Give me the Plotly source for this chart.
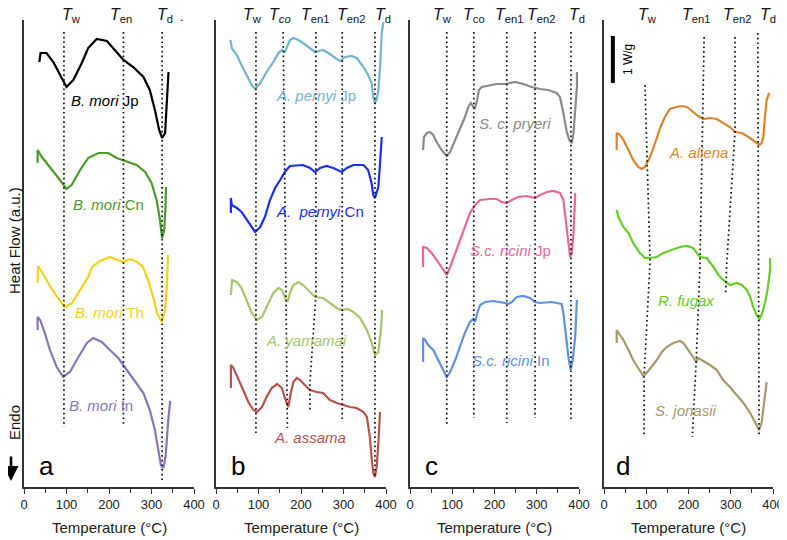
import plotly.graph_objects as go

# ---------------- data (Temperature in °C, heat flow in a.u., curves offset) ----------------
# Panel a
T_mori_jp = [36, 39, 53, 69, 85, 100, 116, 136, 151, 171, 195, 214, 234, 257, 281, 296, 308, 318, 325, 332, 336, 340]
HF_mori_jp = [425, 434, 434, 425, 412, 400, 407, 424, 439, 448, 446, 437, 427, 420, 410, 397, 377, 357, 349, 354, 387, 415]
T_mori_cn = [32, 32, 42, 61, 81, 100, 112, 132, 151, 175, 198, 218, 238, 265, 285, 300, 312, 320, 325, 330, 333, 334]
HF_mori_cn = [324, 337, 330, 320, 309, 298, 302, 317, 329, 334, 334, 329, 326, 322, 315, 304, 287, 267, 249, 257, 280, 300]
T_mori_th = [32, 33, 45, 61, 80, 96, 113, 132, 151, 160, 179, 202, 219, 233, 249, 266, 280, 292, 304, 313, 324, 332, 336, 339]
HF_mori_th = [204, 221, 213, 201, 189, 180, 184, 197, 210, 220, 226, 230, 227, 225, 228, 225, 220, 207, 190, 174, 165, 177, 200, 232]
T_mori_in = [32, 32, 38, 49, 61, 77, 92, 108, 128, 148, 163, 183, 202, 222, 242, 265, 281, 296, 308, 316, 322, 328, 333, 340, 344]
HF_mori_in = [157, 170, 167, 154, 137, 120, 110, 115, 130, 144, 149, 145, 137, 129, 117, 104, 94, 77, 57, 37, 22, 19, 30, 70, 86]

# Panel b
T_pernyi_jp = [33, 35, 37, 41, 49, 60, 72, 84, 92, 104, 119, 135, 147, 155, 162, 168, 174, 182, 194, 205, 221, 233, 252,
               268, 284, 292, 304, 319, 331, 347, 358, 366, 370, 374, 378, 382, 386, 390, 394]
HF_pernyi_jp = [447, 445, 439, 437, 432, 422, 412, 402, 398, 404, 415, 425, 434, 437, 435, 442, 447, 449, 447, 444, 439, 435, 437,
                433, 428, 426, 430, 431, 429, 420, 412, 404, 390, 384, 387, 397, 420, 454, 465]
T_pernyi_cn = [35, 35, 37, 49, 60, 72, 84, 92, 104, 115, 127, 139, 151, 162, 174, 205, 221, 233, 245, 260, 276, 296, 308,
               323, 347, 358, 366, 370, 374, 378, 382, 386, 390]
HF_pernyi_cn = [274, 289, 282, 279, 275, 267, 259, 255, 260, 270, 287, 299, 307, 315, 321, 322, 319, 315, 319, 321, 319, 315, 319,
                322, 322, 317, 304, 292, 289, 294, 300, 324, 350]
T_yamamai = [35, 38, 49, 60, 72, 84, 96, 108, 119, 135, 147, 155, 162, 168, 174, 182, 194, 205, 221, 233, 252, 268, 284,
             296, 311, 323, 339, 355, 366, 374, 382, 388, 391]
HF_yamamai = [192, 207, 205, 199, 187, 174, 167, 170, 180, 194, 199, 197, 190, 185, 194, 202, 205, 202, 195, 190, 189, 184, 179,
              177, 178, 175, 169, 157, 145, 132, 135, 157, 177]
T_assama = [35, 35, 41, 52, 64, 76, 88, 96, 108, 119, 131, 144, 155, 162, 170, 176, 182, 190, 198, 209, 221, 237, 252,
            268, 284, 300, 315, 331, 347, 355, 358, 362, 366, 370, 374, 378, 382, 386]
HF_assama = [99, 122, 119, 109, 97, 85, 77, 75, 80, 90, 99, 103, 99, 89, 80, 94, 105, 109, 107, 102, 97, 95, 94,
             87, 84, 82, 80, 79, 75, 70, 60, 50, 30, 14, 10, 20, 44, 75]

# Panel c
T_pryeri = [31, 33, 40, 47, 55, 63, 75, 87, 95, 107, 118, 130, 138, 144, 150, 154, 159, 163, 170, 185, 205, 225, 249,
            268, 288, 308, 327, 347, 355, 363, 371, 377, 383, 387, 391, 395, 395]
HF_pryeri = [337, 350, 354, 355, 352, 345, 337, 331, 335, 347, 359, 370, 380, 384, 380, 379, 387, 397, 400, 401, 403, 403, 405,
             403, 400, 398, 397, 394, 390, 374, 355, 347, 344, 354, 377, 400, 415]
T_ricini_jp = [31, 31, 40, 51, 63, 75, 87, 95, 107, 118, 130, 142, 154, 166, 189, 205, 217, 229, 241, 256, 276, 296, 308,
               324, 339, 355, 363, 369, 375, 379, 383, 387, 391]
HF_ricini_jp = [220, 240, 239, 234, 227, 220, 212, 220, 234, 247, 260, 274, 282, 287, 288, 288, 285, 284, 287, 290, 291, 289, 292,
                295, 296, 294, 287, 267, 244, 230, 234, 254, 294]
T_ricini_in = [31, 31, 36, 43, 55, 67, 79, 87, 95, 107, 118, 130, 142, 150, 154, 159, 166, 178, 197, 217, 225, 233, 241,
               253, 268, 284, 296, 308, 324, 335, 347, 359, 363, 369, 375, 380, 385, 391, 395]
HF_ricini_in = [125, 149, 147, 142, 137, 127, 117, 110, 115, 127, 140, 154, 165, 168, 165, 174, 182, 185, 186, 185, 184, 183, 185,
                190, 191, 189, 185, 184, 185, 185, 184, 183, 174, 150, 130, 117, 127, 150, 187]

# Panel d
T_aliena = [30, 30, 38, 46, 58, 69, 81, 89, 97, 109, 121, 133, 144, 156, 172, 184, 196, 211, 223, 235, 251, 267, 282,
            298, 310, 326, 342, 357, 368, 373, 377, 381, 385, 391]
HF_aliena = [337, 354, 352, 347, 337, 327, 320, 318, 320, 330, 344, 359, 370, 378, 380, 381, 380, 375, 371, 368, 369, 368, 364,
             360, 355, 354, 350, 345, 342, 344, 350, 370, 387, 394]
T_fugax = [30, 34, 46, 58, 69, 85, 97, 109, 125, 140, 160, 180, 196, 211, 227, 243, 259, 263, 271, 282, 298, 314, 326,
           338, 346, 353, 361, 368, 373, 381, 387, 391, 393, 393]
HF_fugax = [277, 270, 260, 254, 244, 234, 229, 229, 230, 234, 237, 240, 241, 239, 230, 229, 220, 217, 212, 207, 202, 204, 202,
            197, 190, 180, 172, 168, 172, 184, 197, 210, 217, 229]
T_jonasii = [30, 30, 38, 46, 58, 69, 81, 93, 101, 113, 125, 137, 148, 164, 180, 188, 200, 211, 218, 223, 235, 251, 267,
             282, 298, 314, 330, 346, 361, 367, 373, 377, 381, 385]
HF_jonasii = [144, 157, 152, 147, 137, 127, 119, 111, 114, 120, 127, 135, 140, 144, 146, 144, 137, 130, 125, 129, 126, 122, 117,
              107, 100, 92, 84, 74, 62, 57, 64, 77, 94, 105]

# Characteristic-temperature guide lines (T and heat-flow extents)
GUIDE_T_a = [[94, 94], [234, 234], [325, 325]]
GUIDE_HF_a = [[455, 60], [455, 62], [455, 7]]
GUIDE_T_b = [[94, 94], [158, 168], [235, 235, 221, 221], [297, 297], [374, 374]]
GUIDE_HF_b = [[455, 54], [455, 59], [455, 192, 104, 77], [455, 67], [455, 10]]
GUIDE_T_c = [[87, 87], [151, 151], [229, 229], [296, 296], [381, 381]]
GUIDE_HF_c = [[455, 62], [455, 69], [455, 64], [455, 69], [455, 67]]
GUIDE_T_d = [[97, 109, 95, 95], [237, 227, 218, 209], [310, 310, 290, 288], [364, 367]]
GUIDE_HF_d = [[402, 225, 112, 50], [450, 220, 124, 50], [450, 355, 220, 194], [454, 50]]

# Scale bar (1 W/g) in panel d
SCALE_T = [21, 21]
SCALE_HF = [404, 451]

X_TICKS = [0, 100, 200, 300, 400]
X_MINOR = [50, 150, 250, 350]

# ---------------- figure ----------------
FONT = "Arial, Liberation Sans, Helvetica, sans-serif"
OFF = 8                      # page body margin: the graph div sits 8 px in from the window edge
W, H = 787 - OFF, 540 - OFF
PLOT_TOP, PLOT_BOTTOM = 20, 487          # window pixels
MT = PLOT_TOP - OFF
MB = H - (PLOT_BOTTOM - OFF)
PH = PLOT_BOTTOM - PLOT_TOP

AX = {"a": ("x", "y"), "b": ("x2", "y2"), "c": ("x3", "y3"), "d": ("x4", "y4")}
XREF = {"a": "x", "b": "x2", "c": "x3", "d": "x4"}
DOMAINS = {"a": (24, 194), "b": (216, 386), "c": (410, 579), "d": (604, 773)}   # window pixels


def px(xwin):
    return (xwin - OFF) / W


def py(ywin):
    return (PLOT_BOTTOM - ywin) / PH


series = [
    ("a", T_mori_jp, HF_mori_jp, "#000000"),
    ("a", T_mori_cn, HF_mori_cn, "#4b9a2a"),
    ("a", T_mori_th, HF_mori_th, "#f4d11e"),
    ("a", T_mori_in, HF_mori_in, "#8a74b8"),
    ("b", T_pernyi_jp, HF_pernyi_jp, "#74b5cc"),
    ("b", T_pernyi_cn, HF_pernyi_cn, "#1c2ef2"),
    ("b", T_yamamai, HF_yamamai, "#a8c46c"),
    ("b", T_assama, HF_assama, "#b8524d"),
    ("c", T_pryeri, HF_pryeri, "#8a8a8a"),
    ("c", T_ricini_jp, HF_ricini_jp, "#e4689a"),
    ("c", T_ricini_in, HF_ricini_in, "#5f92da"),
    ("d", T_aliena, HF_aliena, "#db8430"),
    ("d", T_fugax, HF_fugax, "#66cc26"),
    ("d", T_jonasii, HF_jonasii, "#a39a6c"),
]

fig = go.Figure()
for panel, T, HF, color in series:
    xa, ya = AX[panel]
    fig.add_trace(go.Scatter(x=T, y=HF, mode="lines", xaxis=xa, yaxis=ya,
                             line=dict(color=color, width=2.2), hoverinfo="skip", showlegend=False))

for panel, GT, GH in [("a", GUIDE_T_a, GUIDE_HF_a), ("b", GUIDE_T_b, GUIDE_HF_b),
                      ("c", GUIDE_T_c, GUIDE_HF_c), ("d", GUIDE_T_d, GUIDE_HF_d)]:
    xa, ya = AX[panel]
    for t, h in zip(GT, GH):
        fig.add_trace(go.Scatter(x=t, y=h, mode="lines", xaxis=xa, yaxis=ya,
                                 line=dict(color="#111111", width=1.7, dash="1.7px,3px"),
                                 hoverinfo="skip", showlegend=False))

fig.add_trace(go.Scatter(x=SCALE_T, y=SCALE_HF, mode="lines", xaxis="x4", yaxis="y4",
                         line=dict(color="#000000", width=4), hoverinfo="skip", showlegend=False))

layout = dict(
    width=W, height=H, autosize=False, margin=dict(l=0, r=0, t=MT, b=MB, pad=0, autoexpand=False),
    paper_bgcolor="white", plot_bgcolor="white",
    font=dict(family=FONT, size=13, color="#222222"),
    showlegend=False,
)
for i, p in enumerate(["a", "b", "c", "d"]):
    sfx = "" if i == 0 else str(i + 1)
    d0, d1 = DOMAINS[p]
    layout["xaxis" + sfx] = dict(
        domain=[px(d0), px(d1)], range=[0, 400], anchor="y" + sfx, automargin=False,
        showline=True, linecolor="#333333", linewidth=1.5, mirror=False,
        ticks="outside", tickvals=X_TICKS, ticklen=5, tickwidth=1.3, tickcolor="#333333",
        minor=dict(tickvals=X_MINOR, ticks="outside", ticklen=4, tickwidth=1.3, tickcolor="#333333"),
        showgrid=False, zeroline=False, tickfont=dict(size=13, color="#222222"),
        fixedrange=True,
    )
    layout["yaxis" + sfx] = dict(
        domain=[0, 1], range=[0, 467], anchor="x" + sfx, automargin=False,
        showline=True, linecolor="#333333", linewidth=1.5,
        ticks="", showticklabels=False, showgrid=False, zeroline=False, fixedrange=True,
    )
fig.update_layout(**layout)

ann = []

# header labels
headers = {
    "a": [("<i>T</i><sub>w</sub>", 111), ("<i>T</i><sub>en</sub>", 228), ("<i>T</i><sub>d</sub>", 332)],
    "b": [("<i>T</i><sub>w</sub>", 85), ("<i>T</i><sub><i>co</i></sub>", 151), ("<i>T</i><sub>en1</sub>", 233),
          ("<i>T</i><sub>en2</sub>", 318), ("<i>T</i><sub>d</sub>", 393)],
    "c": [("<i>T</i><sub>w</sub>", 76), ("<i>T</i><sub>co</sub>", 151), ("<i>T</i><sub>en1</sub>", 234),
          ("<i>T</i><sub>en2</sub>", 310), ("<i>T</i><sub>d</sub>", 395)],
    "d": [("<i>T</i><sub>w</sub>", 102), ("<i>T</i><sub>en1</sub>", 218), ("<i>T</i><sub>en2</sub>", 315),
          ("<i>T</i><sub>d</sub>", 388)],
}
for p, lst in headers.items():
    for txt, xv in lst:
        ann.append(dict(x=xv, y=py(16), xref=XREF[p], yref="paper", text=txt, showarrow=False,
                        font=dict(size=16, color="#111111", family=FONT), xanchor="center", yanchor="middle"))
ann.append(dict(x=372, y=py(17), xref="x", yref="paper", text=".", showarrow=False,
                font=dict(size=13, color="#111111"), xanchor="center", yanchor="middle"))

# x-axis titles
for p in ["a", "b", "c", "d"]:
    ann.append(dict(x=200, y=py(527), xref=XREF[p], yref="paper", text="Temperature (°C)", showarrow=False,
                    font=dict(size=15, color="#222222", family=FONT), xanchor="center", yanchor="middle"))

# curve labels
labels = [
    ("a", "<i>B. mori</i> Jp", 191, 387, "#000000"),
    ("a", "<i>B. mori</i> Cn", 198, 283, "#4b9a2a"),
    ("a", "<i>B. mori</i> Th", 200, 175, "#f4d11e"),
    ("a", "<i>B. mori</i> In", 182, 82, "#8a74b8"),
    ("b", "<i>A. pernyi</i> Jp", 235, 392, "#74b5cc"),
    ("b", "<i>A.  pernyi</i> Cn", 245, 276, "#1c2ef2"),
    ("b", "<i>A. yamamai</i>", 213, 147, "#a8c46c"),
    ("b", "<i>A. assama</i>", 220, 50, "#b8524d"),
    ("c", "<i>S. c. pryeri</i>", 249, 364, "#8a8a8a"),
    ("c", "<i>S.c. ricini</i> Jp", 237, 237, "#e4689a"),
    ("c", "<i>S.c. ricini</i> In", 239, 127, "#5f92da"),
    ("d", "<i>A. aliena</i>", 224, 335, "#db8430"),
    ("d", "<i>R. fugax</i>", 193, 187, "#66cc26"),
    ("d", "<i>S. jonasii</i>", 193, 77, "#a39a6c"),
]
for p, txt, xv, yv, col in labels:
    xa, ya = AX[p]
    ann.append(dict(x=xv, y=yv, xref=xa, yref=ya, text=txt, showarrow=False,
                    font=dict(size=15, color=col, family=FONT), xanchor="center", yanchor="middle"))

# panel letters
for p, xv in [("a", 54), ("b", 52), ("c", 52), ("d", 45)]:
    xa, ya = AX[p]
    ann.append(dict(x=xv, y=21, xref=xa, yref=ya, text=p, showarrow=False,
                    font=dict(size=26, color="#000000", family=FONT), xanchor="center", yanchor="middle"))

# scale bar text
ann.append(dict(x=57, y=427, xref="x4", yref="y4", text="1 W/g", textangle=-90, showarrow=False,
                font=dict(size=12, color="#000000", family=FONT), xanchor="center", yanchor="middle"))

# y label, Endo, arrow
ann.append(dict(x=px(14), y=py(241), xref="paper", yref="paper", text="Heat Flow (a.u.)", textangle=-90,
                showarrow=False, font=dict(size=15, color="#111111", family=FONT), xanchor="center", yanchor="middle"))
ann.append(dict(x=px(14), y=py(423), xref="paper", yref="paper", text="Endo", textangle=-90,
                showarrow=False, font=dict(size=15, color="#111111", family=FONT), xanchor="center", yanchor="middle"))
ann.append(dict(x=px(11), y=py(481), xref="paper", yref="paper", text="", showarrow=True,
                ax=0, ay=-26, arrowhead=2, arrowsize=1.2, arrowwidth=2.5, arrowcolor="#000000"))

fig.update_layout(annotations=ann)
fig.write_html("out.html")
